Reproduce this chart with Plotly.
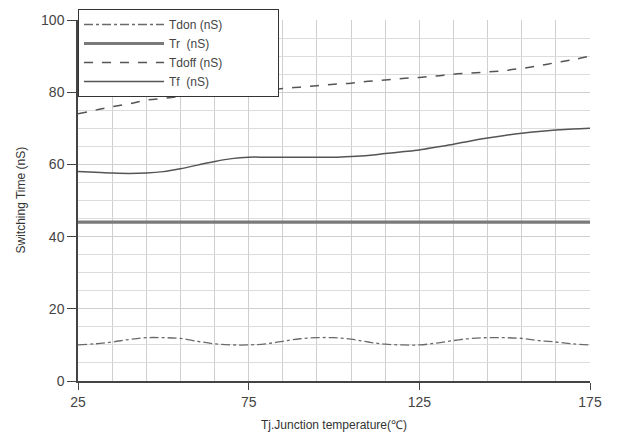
import plotly.graph_objects as go

temps = [25, 30, 35, 40, 45, 50, 55, 60, 65, 70, 75, 80, 85, 90, 95, 100,
         105, 110, 115, 120, 125, 130, 135, 140, 145, 150, 155, 160, 165, 170, 175]
tdon = [10, 10.3, 10.8, 11.5, 12, 12, 11.8, 11, 10.3, 10, 10, 10.3, 11, 11.7, 12, 12,
        11.6, 10.8, 10.2, 10, 10, 10.5, 11.2, 11.8, 12, 12, 11.8, 11.2, 10.8, 10.3, 10]
tr = [44] * len(temps)
tdoff = [74, 75, 76, 76.8, 77.8, 78.3, 78.8, 79.2, 79.5, 79.8, 80, 80.5, 81, 81.4, 81.8, 82.2,
         82.5, 83, 83.4, 83.8, 84.1, 84.5, 85, 85.3, 85.6, 86, 86.6, 87.3, 88.2, 89, 90]
tf = [58, 57.8, 57.6, 57.5, 57.6, 58.0, 58.8, 59.8, 60.8, 61.6, 62, 62, 62, 62, 62, 62,
      62.2, 62.5, 63, 63.5, 64, 64.8, 65.6, 66.5, 67.3, 68, 68.6, 69.1, 69.5, 69.8, 70]

x_ticks = [25, 75, 125, 175]
y_ticks = [0, 20, 40, 60, 80, 100]

pad = "\u00a0" * 15
font = "Liberation Sans, Arial, sans-serif"
W, H = 612, 431
fig = go.Figure()
fig.add_trace(go.Scatter(x=temps, y=tdon, mode="lines", name="Tdon (nS)" + pad,
                         line=dict(color="#6a6a6a", width=1.3, dash="dashdot", shape="spline")))
fig.add_trace(go.Scatter(x=temps, y=tr, mode="lines", name="Tr\u00a0\u00a0(nS)" + pad,
                         line=dict(color="#7a7a7a", width=3.2)))
fig.add_trace(go.Scatter(x=temps, y=tdoff, mode="lines", name="Tdoff (nS)" + pad,
                         line=dict(color="#555555", width=1.5, dash="dash", shape="spline")))
fig.add_trace(go.Scatter(x=temps, y=tf, mode="lines", name="Tf\u00a0\u00a0(nS)" + pad,
                         line=dict(color="#555555", width=1.5, shape="spline")))

fig.update_layout(
    width=W, height=H,
    margin=dict(l=70, r=30, t=12, b=58, autoexpand=False),
    paper_bgcolor="white", plot_bgcolor="white",
    font=dict(family=font, color="#444444"),
    showlegend=True,
    legend=dict(x=70 / W, y=1 - 1 / H, xref="container", yref="container",
                xanchor="left", yanchor="top",
                bgcolor="white", bordercolor="#333333", borderwidth=1,
                font=dict(size=12, color="#444444"),
                tracegroupgap=0, itemwidth=80),
    annotations=[dict(text="Switching Time (nS)", textangle=-90,
                      xref="paper", yref="paper", x=-58 / 512, y=0.5,
                      xanchor="center", yanchor="middle", showarrow=False,
                      font=dict(size=12, color="#333333"))],
)
fig.update_xaxes(
    range=[25, 175], tickvals=x_ticks, ticktext=[str(v) for v in x_ticks],
    showline=True, linecolor="#444444", linewidth=1.5,
    ticks="outside", ticklen=7, tickcolor="#444444",
    showgrid=True, gridcolor="#cfcfcf", gridwidth=1,
    minor=dict(dtick=10, tick0=25, showgrid=True, gridcolor="#cfcfcf", gridwidth=1),
    tickfont=dict(size=14, color="#444444"),
    title=dict(text="Tj.Junction temperature(\u2103)", font=dict(size=12, color="#333333"), standoff=12),
    zeroline=False,
)
fig.update_yaxes(
    range=[0, 100], tickvals=y_ticks,
    showline=True, linecolor="#444444", linewidth=1.5,
    ticks="outside", ticklen=9, tickcolor="#444444",
    showgrid=True, gridcolor="#cfcfcf", gridwidth=1,
    minor=dict(dtick=5, showgrid=True, gridcolor="#dcdcdc", gridwidth=1),
    tickfont=dict(size=14, color="#444444"),
    zeroline=False,
)
fig.write_html("out.html")
